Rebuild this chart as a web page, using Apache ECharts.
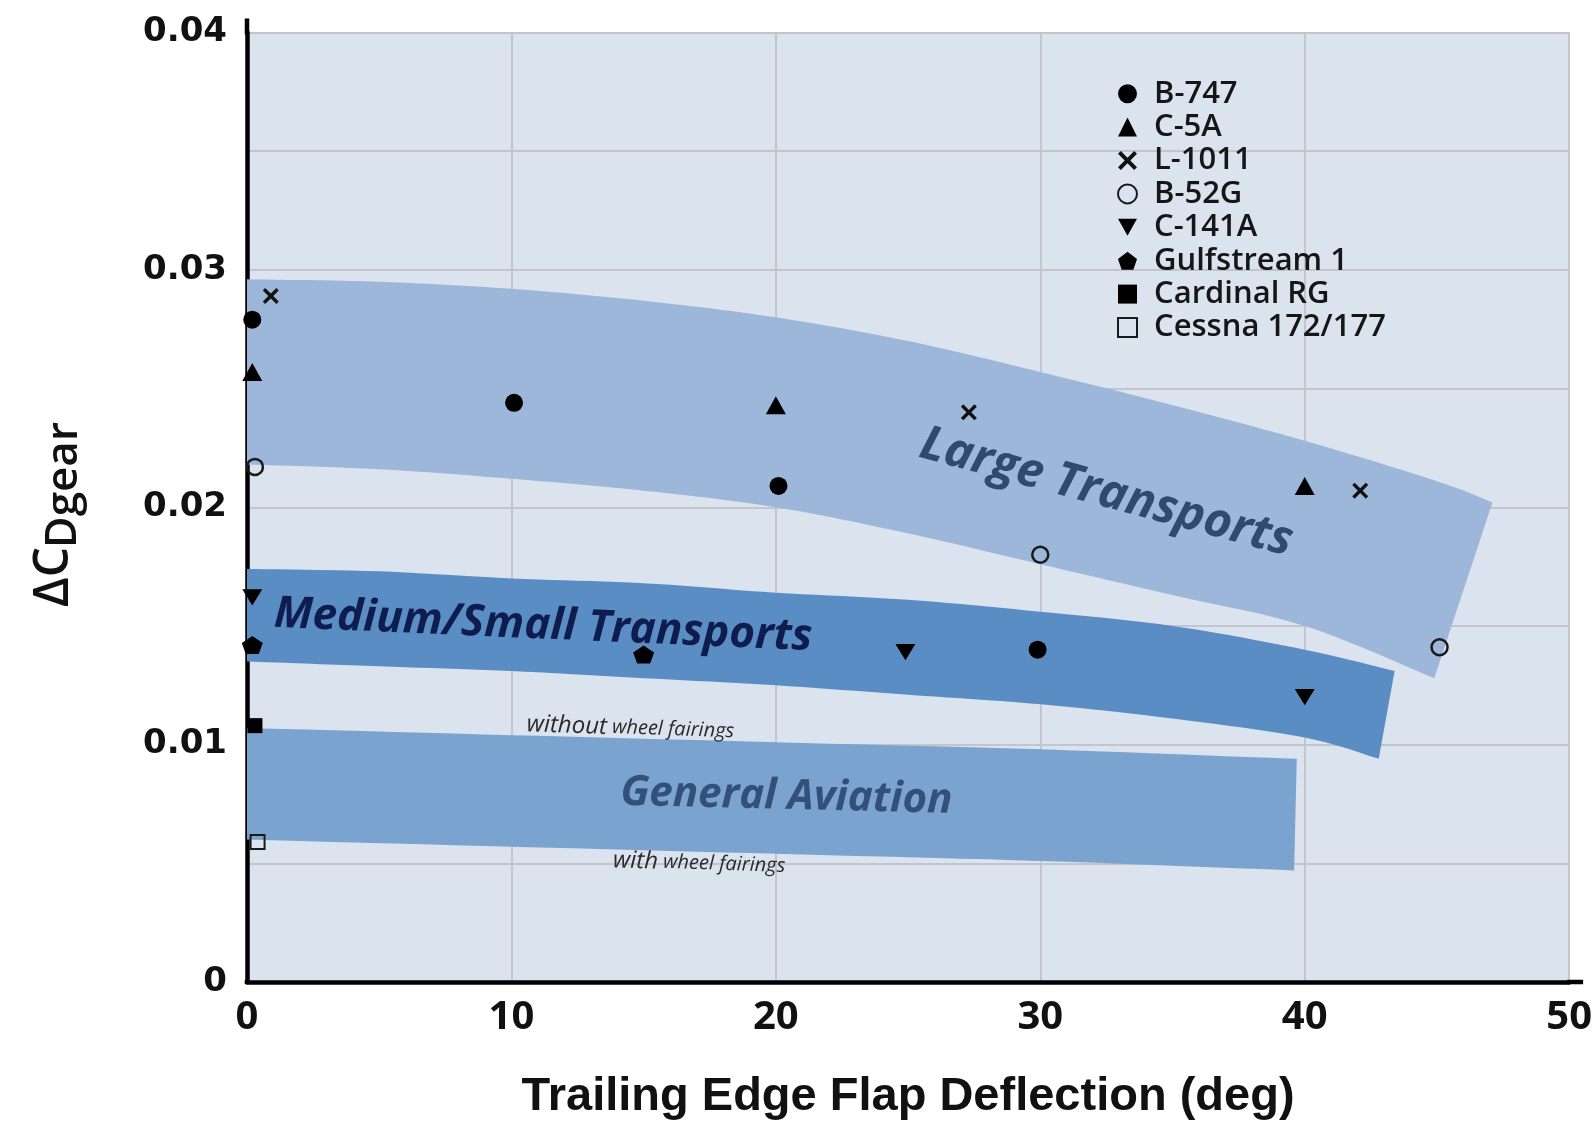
<!DOCTYPE html>
<html>
<head>
<meta charset="utf-8">
<script src="https://cdn.jsdelivr.net/npm/echarts@6/dist/echarts.min.js"></script>
<style>
  html, body { margin: 0; padding: 0; background: #ffffff; }
  #chart { width: 1595px; height: 1137px; }
</style>
</head>
<body>
<div id="chart"></div>
<script>
// ---- Gear drag increment vs. trailing edge flap deflection ----
// Each point: [flap deflection (deg), delta C_D gear]
const b747        = [[0.2, 0.0279], [10.1, 0.0244], [20.1, 0.0209], [29.9, 0.0140]];
const c5a         = [[0.2, 0.0257], [20.0, 0.0243], [40.0, 0.0209]];
const l1011       = [[0.9, 0.0289], [27.3, 0.0240], [42.1, 0.0207]];
const b52g        = [[0.3, 0.0217], [30.0, 0.0180], [45.1, 0.0141]];
const c141a       = [[0.2, 0.0162], [24.9, 0.0139], [40.0, 0.0120]];
const gulfstream1 = [[0.2, 0.0142], [15.0, 0.0138]];
const cardinalRG  = [[0.3, 0.0108]];
const cessna      = [[0.4, 0.0059]];

// Aircraft class bands: upper and lower edges, [deg, delta C_D]
const largeUpper  = [[0, 0.0296], [5, 0.0295], [10, 0.0292], [15, 0.0287], [20, 0.0280], [25, 0.0270], [30, 0.0257], [35, 0.0243], [40, 0.0228], [45, 0.0211], [47.1, 0.0202]];
const largeLower  = [[0, 0.0218], [5, 0.0216], [10, 0.0212], [15, 0.0207], [20, 0.0200], [25, 0.0189], [30, 0.0176], [35, 0.0163], [40, 0.0150], [44.9, 0.0128]];
const mediumUpper = [[0, 0.0174], [5, 0.0173], [10, 0.0170], [15, 0.0168], [20, 0.0164], [25, 0.0161], [30, 0.0156], [35, 0.0150], [40, 0.0140], [43.4, 0.0131]];
const mediumLower = [[0, 0.0135], [5, 0.0133], [10, 0.0131], [15, 0.0128], [20, 0.0125], [25, 0.0121], [30, 0.0117], [35, 0.0111], [40, 0.0103], [42.8, 0.0094]];
const gaUpper     = [[0, 0.0107], [10, 0.0104], [20, 0.0101], [30, 0.0098], [39.7, 0.0094]];
const gaLower     = [[0, 0.0060], [10, 0.0057], [20, 0.0054], [30, 0.0051], [39.6, 0.0047]];

// Axis ranges
const xRange = { min: 0, max: 50, step: 10 };
const yRange = { min: 0, max: 0.04, step: 0.01 };

// Band captions and notes, anchored at [deg, delta C_D]
const captions = [
  { text: 'Large Transports',           at: [32.5, 0.0206] },
  { text: 'Medium/Small Transports',    at: [11.2, 0.0150] },
  { text: 'General Aviation',           at: [20.4, 0.0078] },
  { text: '{a|without} {b|wheel fairings}', at: [14.5, 0.0107] },
  { text: '{a|with} {b|wheel fairings}',    at: [17.1, 0.0050] }
];

// ---- styling ----
const FONT = '"Open Sans", "Noto Sans", sans-serif';
const bandDefs = [
  { upper: largeUpper,  lower: largeLower,  fill: '#9cb7d9' },
  { upper: mediumUpper, lower: mediumLower, fill: '#5a8dc4' },
  { upper: gaUpper,     lower: gaLower,     fill: '#7ba3cf' }
];
const noteRich = {
  a: { fontSize: 24, fontStyle: 'italic', fontFamily: FONT, fill: '#2a2a2a' },
  b: { fontSize: 20, fontStyle: 'italic', fontFamily: FONT, fill: '#2a2a2a' }
};
const captionStyles = [
  { rotate: -15,  font: 'italic 700 48px ' + FONT, fill: '#2e4a6c' },
  { rotate: -2.5, font: 'italic 700 44px ' + FONT, fill: '#0e1d4e' },
  { rotate: -1.4, font: 'italic 700 42px ' + FONT, fill: '#32507a' },
  { rotate: -2,   font: 'italic 400 20px ' + FONT, fill: '#2a2a2a', rich: noteRich },
  { rotate: -2,   font: 'italic 400 20px ' + FONT, fill: '#2a2a2a', rich: noteRich }
];

const SYM_X = 'path://M0,3L3,0L10,7L17,0L20,3L13,10L20,17L17,20L10,13L3,20L0,17L7,10Z';
const SYM_DOWN = 'path://M0,0L20,0L10,18Z';
const SYM_PENT = 'path://M10,0L20,7.6L16.2,19L3.8,19L0,7.6Z';

const aircraft = [
  { name: 'B-747',          data: b747,        symbol: 'circle',   size: 18,       style: { color: '#000' } },
  { name: 'C-5A',           data: c5a,         symbol: 'triangle', size: [20, 18], style: { color: '#000' } },
  { name: 'L-1011',         data: l1011,       symbol: SYM_X,      size: 16,       style: { color: '#111' } },
  { name: 'B-52G',          data: b52g,        symbol: 'circle',   size: 16,       style: { color: 'rgba(0,0,0,0)', borderColor: '#1a1a1a', borderWidth: 2.5 } },
  { name: 'C-141A',         data: c141a,       symbol: SYM_DOWN,   size: [20, 18], style: { color: '#000' } },
  { name: 'Gulfstream 1',   data: gulfstream1, symbol: SYM_PENT,   size: [21, 19], style: { color: '#000' } },
  { name: 'Cardinal RG',    data: cardinalRG,  symbol: 'rect',     size: 15,       style: { color: '#000' } },
  { name: 'Cessna 172/177', data: cessna,      symbol: 'rect',     size: 14,       style: { color: 'rgba(0,0,0,0)', borderColor: '#1a1a1a', borderWidth: 2 } }
];

// Catmull-Rom smoothing of a pixel polyline
function smoothEdge(pts) {
  if (pts.length < 3) return pts.slice();
  const out = [];
  for (let i = 0; i < pts.length - 1; i++) {
    const p0 = pts[Math.max(i - 1, 0)], p1 = pts[i], p2 = pts[i + 1], p3 = pts[Math.min(i + 2, pts.length - 1)];
    for (let k = 0; k < 10; k++) {
      const t = k / 10, t2 = t * t, t3 = t2 * t;
      const f = (a, b, c, d) => 0.5 * ((2 * b) + (-a + c) * t + (2 * a - 5 * b + 4 * c - d) * t2 + (-a + 3 * b - 3 * c + d) * t3);
      out.push([f(p0[0], p1[0], p2[0], p3[0]), f(p0[1], p1[1], p2[1], p3[1])]);
    }
  }
  out.push(pts[pts.length - 1]);
  return out;
}

const gridLine = { color: '#c2c6cc', width: 2 };
const axisLine = { show: true, onZero: false, lineStyle: { color: '#000', width: 4.5 } };

const chart = echarts.init(document.getElementById('chart'), null, { renderer: 'canvas' });

const option = {
  animation: false,
  backgroundColor: '#ffffff',
  grid: { left: 247, right: 23, top: 32.5, bottom: 155, show: true, backgroundColor: '#dbe3ef', borderWidth: 0 },
  legend: {
    orient: 'vertical', left: 1112, top: 72,
    itemWidth: 19, itemHeight: 19, itemGap: 0,
    symbolKeepAspect: true,
    selectedMode: false,
    data: aircraft.map(a => a.name),
    textStyle: { fontFamily: FONT, fontWeight: 600, fontSize: 31, color: '#161616', lineHeight: 33.4, padding: [0, 0, 0, 12] }
  },
  xAxis: {
    type: 'value', min: xRange.min, max: xRange.max, interval: xRange.step,
    axisLine: axisLine,
    axisTick: { show: false },
    splitLine: { show: true, lineStyle: gridLine },
    axisLabel: { fontFamily: FONT, fontWeight: 700, fontSize: 40, color: '#111', margin: 16 },
    name: 'Trailing Edge Flap Deflection (deg)',
    nameLocation: 'middle', nameGap: 92,
    nameTextStyle: { fontFamily: '"Liberation Sans", Arial, sans-serif', fontWeight: 700, fontSize: 47, color: '#111' }
  },
  yAxis: {
    type: 'value', min: yRange.min, max: yRange.max, interval: yRange.step,
    axisLine: axisLine,
    axisTick: { show: false },
    splitLine: { show: true, lineStyle: gridLine },
    minorTick: { show: false, splitNumber: 2 },
    minorSplitLine: { show: true, lineStyle: gridLine },
    axisLabel: {
      fontFamily: '"DejaVu Sans", sans-serif', fontWeight: 700, fontSize: 34, color: '#111', margin: 20,
      formatter: v => (v === 0 ? '0' : v.toFixed(2))
    }
  },
  series: [
    {
      type: 'custom', name: 'bands', silent: true, z: 1, clip: false,
      data: bandDefs.map((b, i) => [i]),
      renderItem: (params, api) => {
        const b = bandDefs[params.dataIndex];
        const up = smoothEdge(b.upper.map(p => api.coord(p)));
        const lo = smoothEdge(b.lower.map(p => api.coord(p))).reverse();
        return { type: 'polygon', shape: { points: up.concat(lo) }, style: { fill: b.fill } };
      }
    },
    ...aircraft.map(a => ({
      type: 'scatter', name: a.name, data: a.data, z: 5, clip: false,
      symbol: a.symbol, symbolSize: a.size, symbolKeepAspect: true,
      itemStyle: Object.assign({ opacity: 1 }, a.style),
      emphasis: { disabled: true }
    })),
    {
      type: 'custom', name: 'captions', silent: true, z: 4, clip: false,
      data: captions.map((c, i) => [i]),
      renderItem: (params, api) => {
        const c = captions[params.dataIndex];
        const s = captionStyles[params.dataIndex];
        const p = api.coord(c.at);
        return {
          type: 'text', x: p[0], y: p[1], rotation: s.rotate * Math.PI / 180,
          style: { text: c.text, font: s.font, fill: s.fill, rich: s.rich, align: 'center', verticalAlign: 'middle' }
        };
      }
    }
  ]
};
chart.setOption(option);

// y-axis title (delta C sub D sub gear) and the short axis overhangs
(function () {
  const ctx = document.createElement('canvas').getContext('2d');
  const f1 = '600 48px ' + FONT, f2 = '600 43px ' + FONT, f3 = '600 44px ' + FONT;
  ctx.font = f1; const w1 = ctx.measureText('\u0394C').width;
  ctx.font = f2; const w2 = ctx.measureText('D').width;
  const origin = chart.convertToPixel({ gridIndex: 0 }, [xRange.min, yRange.min]);
  const topLeft = chart.convertToPixel({ gridIndex: 0 }, [xRange.min, yRange.max]);
  const bottomRight = chart.convertToPixel({ gridIndex: 0 }, [xRange.max, yRange.min]);
  chart.setOption({
    graphic: [
      {
        type: 'group', x: 68, y: 607, rotation: Math.PI / 2,
        children: [
          { type: 'text', x: 0, y: -14, style: { text: '\u0394C', font: f1, fill: '#111', verticalAlign: 'middle' } },
          { type: 'text', x: w1 - 1, y: -4, style: { text: 'D', font: f2, fill: '#111', verticalAlign: 'middle' } },
          { type: 'text', x: w1 + w2 - 1, y: -4, style: { text: 'gear', font: f3, fill: '#111', verticalAlign: 'middle' } }
        ]
      },
      { type: 'line', z: 10, shape: { x1: topLeft[0], y1: topLeft[1] + 2, x2: topLeft[0], y2: topLeft[1] - 14 }, style: { stroke: '#000', lineWidth: 4.5 } },
      { type: 'line', z: 10, shape: { x1: bottomRight[0] - 2, y1: bottomRight[1], x2: bottomRight[0] + 14, y2: bottomRight[1] }, style: { stroke: '#000', lineWidth: 4.5 } },
      { type: 'line', z: 10, shape: { x1: origin[0], y1: origin[1] - 2, x2: origin[0], y2: origin[1] + 2 }, style: { stroke: '#000', lineWidth: 4.5 } }
    ]
  });
})();
</script>
</body>
</html>
